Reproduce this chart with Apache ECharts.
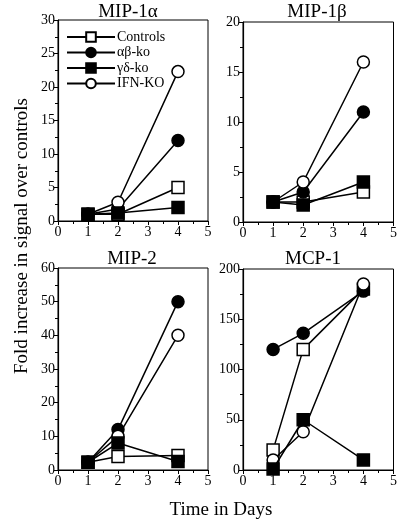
<!DOCTYPE html>
<html><head><meta charset="utf-8">
<script src="https://cdn.jsdelivr.net/npm/echarts@6/dist/echarts.min.js"></script>
<style>html,body{margin:0;padding:0;background:#fff}#c{width:400px;height:522px}</style>
</head><body><div id="c"></div>
<script>
const days = [1, 2, 4];
const seriesNames = ['Controls', 'αβ-ko', 'γδ-ko', 'IFN-KO'];
const panelTitles = ['MIP-1α', 'MIP-1β', 'MIP-2', 'MCP-1'];
const yMax = [30, 20, 60, 200];
const yStep = [5, 5, 10, 50];
const xTicks = [0, 1, 2, 3, 4, 5];
// values per panel: Controls, αβ-ko, γδ-ko, IFN-KO
const mip1a_controls = [1, 1, 5];
const mip1a_ab = [1, 1.8, 12];
const mip1a_gd = [1, 1.2, 2];
const mip1a_ifn = [1, 2.8, 22.3];
const mip1b_controls = [2, 2, 3];
const mip1b_ab = [2, 3, 11];
const mip1b_gd = [2, 1.7, 4];
const mip1b_ifn = [2, 4, 16];
const mip2_controls = [2.3, 4, 4.3];
const mip2_ab = [2.3, 12, 50];
const mip2_gd = [2.3, 8, 2.5];
const mip2_ifn = [2.3, 10, 40];
const mcp1_controls = [20, 120, 180];
const mcp1_ab = [120, 136, 178];
const mcp1_gd = [1, 50, 10];
const mcp1_ifn = [10, 38, 185];

const panels = [
  [mip1a_controls, mip1a_ab, mip1a_gd, mip1a_ifn],
  [mip1b_controls, mip1b_ab, mip1b_gd, mip1b_ifn],
  [mip2_controls, mip2_ab, mip2_gd, mip2_ifn],
  [mcp1_controls, mcp1_ab, mcp1_gd, mcp1_ifn]
];
const symbols = ['rect', 'circle', 'rect', 'circle'];
const fills = ['#fff', '#000', '#000', '#fff'];
const zOrder = [2, 3, 5, 4];
const font = 'Liberation Serif';

const gridBoxes = [
  {left: 58, top: 20, width: 150, height: 201},
  {left: 243, top: 22, width: 153, height: 200},
  {left: 58, top: 268, width: 150, height: 202},
  {left: 243, top: 269, width: 153, height: 201}
];

const grids = gridBoxes.map(g => Object.assign({show: true, borderColor: '#000', borderWidth: 1, backgroundColor: 'transparent'}, g));
const xAxes = gridBoxes.map((g, i) => ({
  gridIndex: i, type: 'value', min: 0, max: 5, interval: 1,
  axisLine: {show: true, onZero: false, lineStyle: {color: '#000', width: 1.2}},
  axisTick: {show: true, length: 4, lineStyle: {color: '#000'}},
  minorTick: {show: true, splitNumber: 2, length: 3, lineStyle: {color: '#000'}},
  splitLine: {show: false},
  axisLabel: {color: '#000', fontFamily: font, fontSize: 14, margin: 4,
    formatter: v => xTicks.includes(v) ? String(v) : ''}
}));
const yAxes = gridBoxes.map((g, i) => ({
  gridIndex: i, type: 'value', min: 0, max: yMax[i], interval: yStep[i],
  axisLine: {show: true, lineStyle: {color: '#000', width: 1.2}},
  axisTick: {show: true, length: 4, lineStyle: {color: '#000'}},
  minorTick: {show: true, splitNumber: 2, length: 3, lineStyle: {color: '#000'}},
  splitLine: {show: false},
  axisLabel: {color: '#000', fontFamily: font, fontSize: 14, margin: 3}
}));

const series = [];
panels.forEach((vals, p) => {
  vals.forEach((v, s) => {
    series.push({
      name: seriesNames[s], type: 'line', xAxisIndex: p, yAxisIndex: p,
      data: days.map((d, k) => [d, v[k]]),
      symbol: symbols[s], symbolSize: 12,
      showSymbol: true,
      lineStyle: {color: '#000', width: 1.5},
      itemStyle: {color: fills[s], borderColor: '#000', borderWidth: 1.5},
      z: zOrder[s], animation: false
    });
  });
});

const titlePos = [[128, 12], [317, 12], [132, 259], [313, 259]];
const titles = titlePos.map((pos, i) => ({type: 'text', x: pos[0], y: pos[1],
  style: {text: panelTitles[i], font: '19px "Liberation Serif"', fill: '#000', textAlign: 'center', textVerticalAlign: 'middle'}}));

const chart = echarts.init(document.getElementById('c'));
chart.setOption({
  animation: false,
  grid: grids, xAxis: xAxes, yAxis: yAxes, series,
  legend: {
    data: seriesNames, orient: 'vertical', left: 66, top: 30, itemGap: 1.5,
    itemWidth: 48, itemHeight: 12, padding: 0,
    textStyle: {fontFamily: font, fontSize: 14, lineHeight: 14, color: '#000', padding: [0, 0, 0, -3]},
    selectedMode: false
  },
  graphic: titles.concat([
    {type: 'text', x: 22, y: 236, rotation: Math.PI / 2,
      style: {text: 'Fold increase in signal over controls', font: '19px "Liberation Serif"', fill: '#000', textAlign: 'center', textVerticalAlign: 'middle'}},
    {type: 'text', x: 221, y: 510,
      style: {text: 'Time in Days', font: '19px "Liberation Serif"', fill: '#000', textAlign: 'center', textVerticalAlign: 'middle'}}
  ])
});
</script></body></html>
